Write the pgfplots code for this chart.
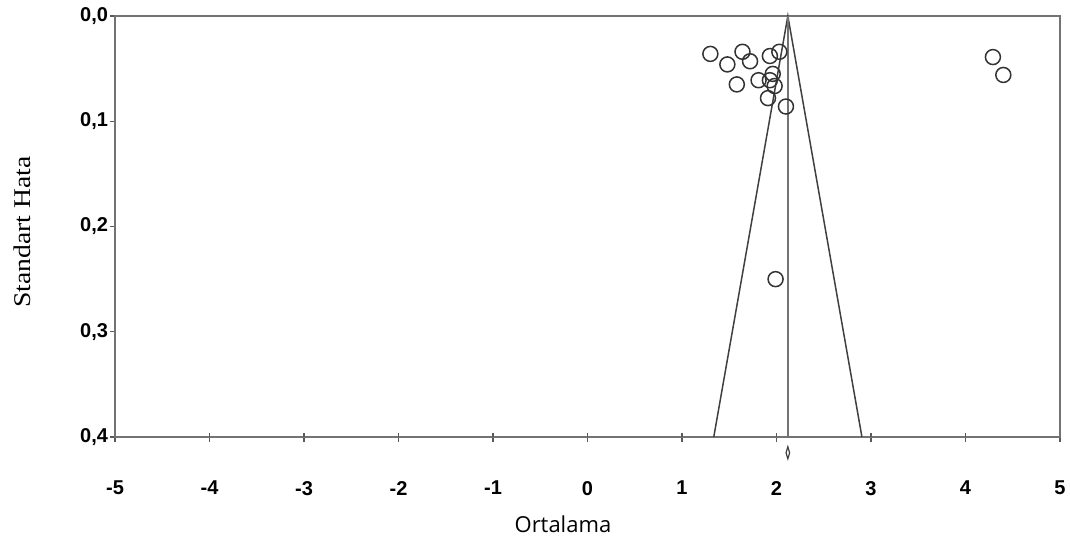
\documentclass[border=0pt]{standalone}
\usepackage{pgfplots}
\pgfplotsset{compat=1.18}
\usepackage{fontspec}
\setmainfont{Liberation Sans}
\newfontfamily\seriffont{Liberation Serif}
\newfontfamily\labelfont{Open Sans}
\begin{document}
\begin{tikzpicture}
\useasboundingbox (-115pt,-110pt) rectangle (955pt,437pt);
\begin{axis}[
  at={(0,0)}, anchor=south west,
  scale only axis, width=945pt, height=421pt,
  xmin=-5, xmax=5, ymin=0, ymax=0.4,
  y dir=reverse,
  clip=false,
  axis line style={draw=black!55, line width=2.4pt},
  xtick={-5,-4,-3,-2,-1,0,1,2,3,4,5},
  xticklabels={-5,-4,-3,-2,-1,0,1,2,3,4,5},
  ytick={0,0.1,0.2,0.3,0.4},
  yticklabels={{0,0},{0,1},{0,2},{0,3},{0,4}},
  xtick pos=bottom, ytick pos=left,
  tick align=outside,
  major tick length=4.5pt,
  tick style={draw=black!65, line width=1.4pt},
  extra x ticks={-4,-3,-2,-1,0,1,2,3,4},
  extra x tick labels={},
  extra x tick style={tick align=inside},
  /pgf/number format/assume math mode=true,
  xticklabel style={font=\fontsize{20}{24}\selectfont\bfseries, yshift=-36pt},
  yticklabel style={font=\fontsize{20}{24}\selectfont\bfseries, xshift=1pt},
  xlabel={Ortalama},
  xlabel style={font=\labelfont\fontsize{22}{26}\selectfont, at={(axis description cs:0.474,-0.2067)}, anchor=center},
  ylabel={\scalebox{1.15}[1]{Standart Hata}},
  ylabel style={font=\seriffont\fontsize{24}{28}\selectfont, at={(axis description cs:-0.0984,0.487)}, anchor=center},
]
\addplot[black!75, line width=1.5pt] coordinates {(1.336,0.4) (2.12,0) (2.904,0.4)};
\addplot[black!55, line width=2.2pt] coordinates {(2.12,0) (2.12,0.4)};
\addplot[only marks, mark=o, mark size=7.5pt, mark options={draw=black!80, line width=1.5pt}] coordinates {
(1.30,0.036)
(1.48,0.046)
(1.64,0.034)
(1.72,0.043)
(1.58,0.065)
(1.81,0.061)
(1.93,0.038)
(2.03,0.034)
(1.96,0.055)
(1.93,0.061)
(1.98,0.0665)
(1.91,0.078)
(2.10,0.086)
(1.99,0.250)
(4.29,0.039)
(4.40,0.056)
};
\addplot[only marks, mark=diamond, mark size=6pt, mark options={xscale=0.4, draw=black!75, line width=1.2pt}] coordinates {(2.12,0.415)};
\end{axis}
\end{tikzpicture}
\end{document}
